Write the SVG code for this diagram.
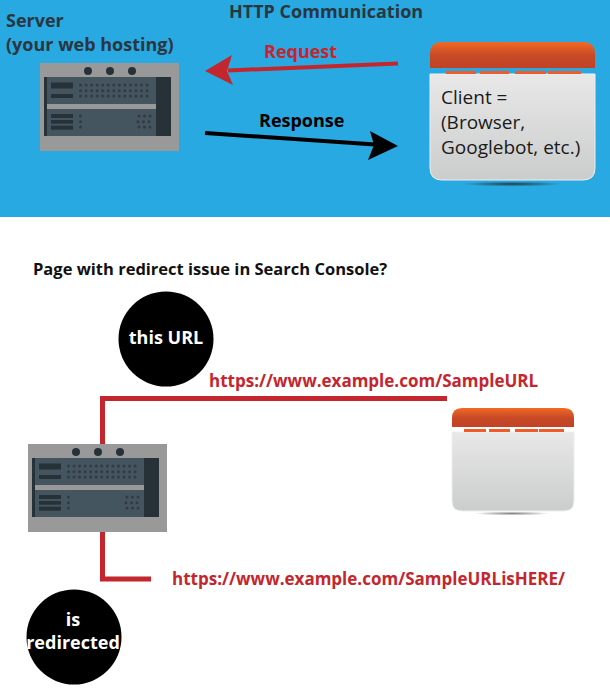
<svg xmlns="http://www.w3.org/2000/svg" width="610" height="691" viewBox="0 0 610 691">
<style>
text{font-family:"Open Sans","Noto Sans",sans-serif}
.b{font-weight:700}
.dk{fill:#2a3640}
.red{fill:#c4262e}
.w{fill:#fff;text-anchor:middle}
.conn{fill:none;stroke:#c4262e;stroke-width:5}
.dots{fill:none;stroke:#333b42;stroke-width:3;stroke-linecap:round}
</style>
<defs>
<linearGradient id="head" x1="0" y1="0" x2="0" y2="1"><stop offset="0" stop-color="#f26a23"/><stop offset="0.5" stop-color="#c94a26"/><stop offset="1" stop-color="#c14226"/></linearGradient>
<linearGradient id="body" x1="0" y1="0" x2="0" y2="1"><stop offset="0" stop-color="#e8e8e8"/><stop offset="1" stop-color="#cbcccc"/></linearGradient>
<radialGradient id="shadow"><stop offset="0" stop-color="#222" stop-opacity=".8"/><stop offset="1" stop-color="#222" stop-opacity="0"/></radialGradient>
<g id="server">
<rect width="139" height="88" fill="#999"/>
<circle cx="48" cy="8" r="4" fill="#263238"/><circle cx="70" cy="8" r="4" fill="#263238"/><circle cx="92" cy="8" r="4" fill="#263238"/>
<rect x="4" y="14" width="127" height="59" fill="#263238"/>
<rect x="7" y="14" width="109" height="59" fill="#44555f"/>
<rect x="7" y="41" width="109" height="5" fill="#999"/>
<rect x="11" y="19.5" width="22" height="6" fill="#263238"/>
<rect x="11" y="31" width="22" height="4" fill="#263238"/>
<rect x="11" y="51" width="22" height="4" fill="#263238"/>
<rect x="11" y="57" width="22" height="3.7" fill="#263238"/>
<rect x="11" y="62.7" width="22" height="4" fill="#263238"/>
<path class="dots" stroke-dasharray="0 5.55" d="M40.5 22H110M40.5 27.7H111M40.5 33H110"/>
<path class="dots" stroke-dasharray="0 5.5" d="M40.5 53H41M40.5 58.7H41M40.5 64H41M99 53H111M98 58.7H111M99 64H111"/>
</g>
</defs>
<rect width="610" height="217" fill="#29a9e1"/>
<rect y="217" width="610" height="474" fill="#fff"/>
<text class="b dk" x="229" y="18" font-size="18">HTTP Communication</text>
<text class="b" x="33" y="275" font-size="16.5" fill="#111">Page with redirect issue in Search Console?</text>

<g id="connectors">
<path d="M398 63.5L228 70.5" fill="none" stroke="#c4262e" stroke-width="4"/>
<path class="red" d="M205 71L232 55L227 71L233 85Z"/>
<path d="M205 133L375 144.5" fill="none" stroke="#000" stroke-width="4"/>
<path d="M398 146L370 131L374 145L368 160Z"/>
<path class="conn" d="M447 398.5H102.500V444"/>
<path class="conn" d="M102.500 532V579H151"/>
</g>

<g id="server-top">
<text class="b dk" x="6" y="27" font-size="18">Server</text>
<text class="b dk" x="6" y="51" font-size="18">(your web hosting)</text>
<use href="#server" x="40" y="63"/>
</g>
<g id="client-top">
<ellipse cx="512" cy="184" rx="50" ry="2.500" fill="url(#shadow)"/>
<path d="M430 68V54Q430 42 442 42H583Q595 42 595 54V68Z" fill="url(#head)"/>
<path d="M430 74H595V168Q595 180 583 180H442Q430 180 430 168Z" fill="url(#body)" stroke="#eee" stroke-width="1"/>
<path d="M446 71h30v3h-30zM480 71h29v3h-29zM515 71h31v3h-31zM548 71h33v3h-33z" fill="#f15a29"/>
<g font-size="19" fill="#1a1a1a">
<text x="441" y="104">Client =</text>
<text x="441" y="129">(Browser,</text>
<text x="441" y="154">Googlebot, etc.)</text>
</g>
</g>
<g id="request-label"><text class="b red" x="264" y="58" font-size="18">Request</text></g>
<g id="response-label"><text class="b" x="259" y="127" font-size="18" fill="#000">Response</text></g>

<g id="this-url">
<circle cx="166" cy="339" r="47.500" fill="#000"/>
<text class="b w" x="166" y="344" font-size="18">this URL</text>
</g>
<g id="url-1"><text class="b red" x="209" y="387" font-size="17">https://www.example.com/SampleURL</text></g>
<g id="server-bottom"><use href="#server" x="28" y="444"/></g>
<g id="client-bottom">
<ellipse cx="512" cy="513.500" rx="38" ry="2" fill="url(#shadow)" opacity=".7"/>
<path d="M452 427V418Q452 408 462 408H564Q574 408 574 418V427Z" fill="url(#head)"/>
<path d="M452 432H574V501Q574 511 564 511H462Q452 511 452 501Z" fill="url(#body)" stroke="#eee" stroke-width="1"/>
<path d="M464 429h22v3h-22zM489 429h21v3h-21zM515 429h23v3h-23zM539 429h25v3h-25z" fill="#f15a29"/>
</g>
<g id="url-2"><text class="b red" x="172" y="585" font-size="17">https://www.example.com/SampleURLisHERE/</text></g>
<g id="redirected">
<circle cx="74" cy="637" r="47.500" fill="#000"/>
<text class="b w" x="73" y="626" font-size="18">is</text>
<text class="b w" x="73" y="649" font-size="18">redirected</text>
</g>
</svg>
